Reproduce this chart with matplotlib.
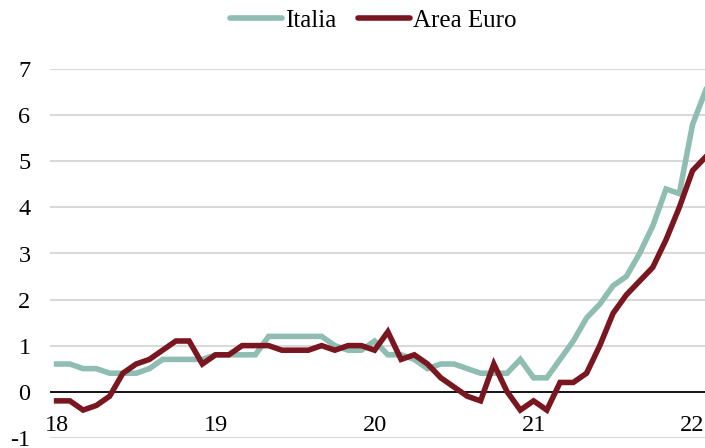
import matplotlib
matplotlib.use("Agg")
import matplotlib.pyplot as plt
import numpy as np

italia = [0.6, 0.6, 0.5, 0.5, 0.4, 0.4, 0.4, 0.5, 0.7, 0.7, 0.7, 0.7,
          0.8, 0.8, 0.8, 0.8, 1.2, 1.2, 1.2, 1.2, 1.2, 1.0, 0.9, 0.9,
          1.1, 0.8, 0.8, 0.7, 0.5, 0.6, 0.6, 0.5, 0.4, 0.4, 0.4, 0.7,
          0.3, 0.3, 0.7, 1.1, 1.6, 1.9, 2.3, 2.5, 3.0, 3.6, 4.4, 4.3,
          5.8, 6.55]
area_euro = [-0.2, -0.2, -0.4, -0.3, -0.1, 0.4, 0.6, 0.7, 0.9, 1.1, 1.1, 0.6,
             0.8, 0.8, 1.0, 1.0, 1.0, 0.9, 0.9, 0.9, 1.0, 0.9, 1.0, 1.0,
             0.9, 1.3, 0.7, 0.8, 0.6, 0.3, 0.1, -0.1, -0.2, 0.6, 0.0, -0.4,
             -0.2, -0.4, 0.2, 0.2, 0.4, 1.0, 1.7, 2.1, 2.4, 2.7, 3.3, 4.0,
             4.8, 5.1]
year_ticks = [0, 12, 24, 36, 48]
year_labels = ["18", "19", "20", "21", "22"]
y_ticks = [-1, 0, 1, 2, 3, 4, 5, 6, 7]

plt.rcParams['font.family'] = ['Liberation Serif', 'DejaVu Serif']

W, H = 705, 448
fig = plt.figure(figsize=(W / 100, H / 100), dpi=100)
left, right = 50 / W, 1.0
bottom = (H - 437.7) / H
top = (H - 69.3) / H
ax = fig.add_axes([left, bottom, right - left, top - bottom])

x = np.arange(len(italia))
c_it = '#8FBDB1'
c_eu = '#7A1620'
ax.plot(x, italia, color=c_it, lw=4.0, label='Italia', zorder=3, clip_on=False,
        solid_joinstyle='miter')
ax.plot(x, area_euro, color=c_eu, lw=4.0, label='Area Euro', zorder=4, clip_on=False,
        solid_joinstyle='miter')

ax.set_xlim(-0.5, 48.94)
ax.set_ylim(-1, 7)

for yv in y_ticks:
    if yv != 0:
        ax.axhline(yv, color='#D9D9D9', lw=1.5, zorder=1)
ax.axhline(0, color='black', lw=1.3, zorder=2)

for s in ax.spines.values():
    s.set_visible(False)

ax.set_yticks(y_ticks)
ax.set_yticklabels([str(v) for v in y_ticks])
ax.tick_params(axis='y', length=0, pad=14, labelsize=17.5)

ax.set_xticks(year_ticks)
ax.set_xticklabels([])
for t, lab in zip(year_ticks, year_labels):
    ax.text(t, -0.855, lab, ha='center', va='baseline', fontsize=17.5, zorder=5,
            clip_on=False)
ax.tick_params(axis='x', length=0)

handles, labels = ax.get_legend_handles_labels()
leg = fig.legend(handles, labels, loc='center', bbox_to_anchor=(373 / W, 1 - 21 / H),
                 ncol=2, frameon=False, fontsize=18, handlelength=2.08,
                 handletextpad=0.12, columnspacing=0.88, borderaxespad=0)
for lh in leg.get_lines():
    lh.set_linewidth(4)
    lh.set_solid_capstyle('round')

fig.savefig('out.png', dpi=100)
